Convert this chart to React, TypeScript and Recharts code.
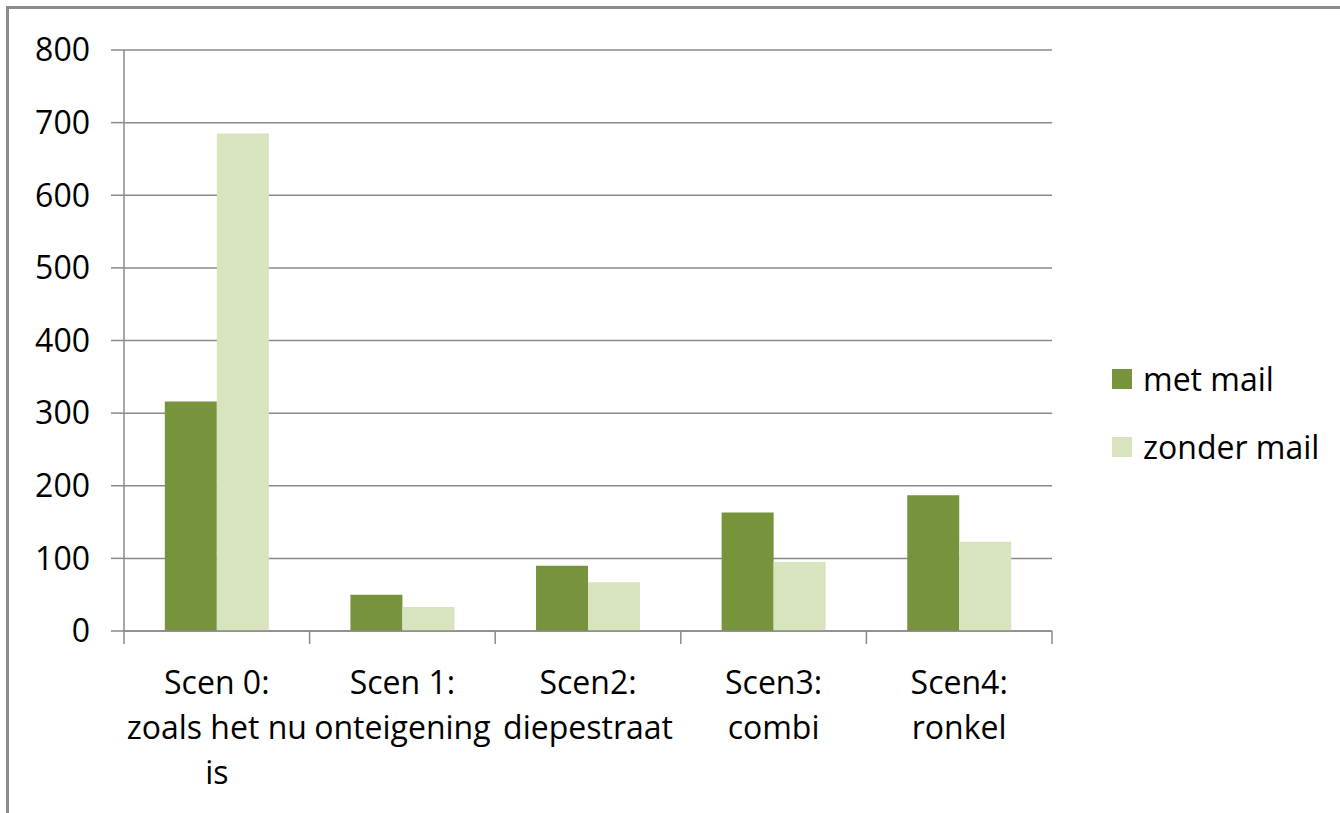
import { Bar, BarChart, CartesianGrid, XAxis, YAxis } from "recharts";

const categories = [
  "Scen 0:\nzoals het nu\nis",
  "Scen 1:\nonteigening",
  "Scen2:\ndiepestraat",
  "Scen3:\ncombi",
  "Scen4:\nronkel"
];
const metMail = [316, 50, 90, 163, 187];
const zonderMail = [685, 33, 67, 95, 123];
const yTicks = [0, 100, 200, 300, 400, 500, 600, 700, 800];

const seriesNames = ["met mail", "zonder mail"];
const seriesColors = ["#77933c", "#d7e4bd"];

const data = categories.map((name, i) => ({
  name,
  met: metMail[i],
  zonder: zonderMail[i]
}));

const FONT = "'Open Sans', sans-serif";
const AXIS = "#8a8a8a";
const PLOT_LEFT = 124;
const PLOT_RIGHT = 1052;
const BAND = (PLOT_RIGHT - PLOT_LEFT) / categories.length;

const CategoryTick = (props: any) => {
  const { x, y, payload, index } = props;
  const lines = String(payload.value).split("\n");
  return (
    <g>
      <line x1={x - BAND / 2} x2={x - BAND / 2} y1={y} y2={y + 13} stroke={AXIS} strokeWidth={1.5} />
      {index === categories.length - 1 && (
        <line x1={x + BAND / 2} x2={x + BAND / 2} y1={y} y2={y + 13} stroke={AXIS} strokeWidth={1.5} />
      )}
      <text textAnchor="middle" fontFamily={FONT} fontSize={32} fill="#000">
        {lines.map((l, i) => (
          <tspan key={i} x={x} y={y + 63 + i * 45}>
            {l}
          </tspan>
        ))}
      </text>
    </g>
  );
};

export default function App() {
  return (
    <div style={{ position: "absolute", left: 0, top: 0, width: 1340, height: 813, background: "#fff" }}>
      <div
        style={{
          position: "absolute",
          left: 6,
          top: 6,
          width: 1334,
          height: 807,
          borderLeft: "3px solid #8c8c8c",
          borderTop: "3px solid #8c8c8c",
          boxSizing: "border-box"
        }}
      />
      <div style={{ position: "absolute", left: 0, top: 0 }}>
        <BarChart
          width={1340}
          height={813}
          data={data}
          margin={{ top: 50, right: 288, bottom: 12, left: 24 }}
          barCategoryGap="22%"
          barGap={0}
        >
          <CartesianGrid vertical={false} stroke={AXIS} strokeWidth={1.5} />
          <XAxis
            dataKey="name"
            interval={0}
            height={170}
            tickLine={false}
            tickSize={0}
            tickMargin={0}
            axisLine={{ stroke: AXIS, strokeWidth: 1.5 }}
            tick={<CategoryTick />}
          />
          <YAxis
            width={100}
            domain={[0, 800]}
            ticks={yTicks}
            interval={0}
            tickSize={13}
            tickMargin={21}
            axisLine={{ stroke: AXIS, strokeWidth: 1.5 }}
            tickLine={{ stroke: AXIS, strokeWidth: 1.5 }}
            tick={{ fontFamily: FONT, fontSize: 32, fill: "#000" }}
          />
          <Bar dataKey="met" name={seriesNames[0]} fill={seriesColors[0]} isAnimationActive={false} />
          <Bar dataKey="zonder" name={seriesNames[1]} fill={seriesColors[1]} isAnimationActive={false} />
        </BarChart>
      </div>
      <div style={{ position: "absolute", left: 1112, top: 344.5, fontFamily: FONT, fontSize: 32, color: "#000" }}>
        {seriesNames.map((n, i) => (
          <div key={n} style={{ display: "flex", alignItems: "center", height: 68 }}>
            <div style={{ width: 20, height: 20, background: seriesColors[i], marginRight: 11 }} />
            <span style={{ lineHeight: 1 }}>{n}</span>
          </div>
        ))}
      </div>
    </div>
  );
}
